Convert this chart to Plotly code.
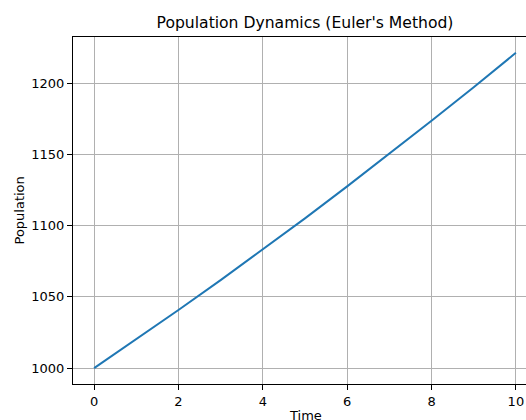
import plotly.graph_objects as go

time = [0, 1, 2, 3, 4, 5, 6, 7, 8, 9, 10]
population = [1000.0, 1020.2, 1040.8, 1061.8, 1083.3, 1105.1, 1127.5, 1150.2, 1173.5, 1197.1, 1221.2]
x_ticks = [0, 2, 4, 6, 8, 10]
y_ticks = [1000, 1050, 1100, 1150, 1200]

font = "DejaVu Sans"
fig = go.Figure()
fig.add_trace(go.Scatter(x=time, y=population, mode="lines",
                         line=dict(color="#1f77b4", width=2), showlegend=False))

axis_common = dict(showgrid=True, gridcolor="#b0b0b0", gridwidth=1, zeroline=False,
                   showline=True, linecolor="black", linewidth=1,
                   ticks="outside", ticklen=5, tickcolor="black", tickwidth=1,
                   tickfont=dict(family=font, size=13, color="black"))

fig.update_xaxes(range=[-0.5, 10.24], tickvals=x_ticks, mirror=True, **axis_common)
fig.update_yaxes(range=[988.9, 1232.3], tickvals=y_ticks, mirror=False, **axis_common)

W, H = 526, 420
L, T, B = 73, 37, 36
pw, ph = W - L, H - T - B

fig.update_layout(
    width=W, height=H,
    margin=dict(l=L, r=0, t=T, b=B),
    plot_bgcolor="white", paper_bgcolor="white",
    title=dict(text="Population Dynamics (Euler's Method)", x=305/W, xref="container",
               xanchor="center", y=1-23/H, yref="container", yanchor="middle",
               font=dict(family=font, size=15.6, color="black")),
    annotations=[
        dict(text="Time", x=(305-L)/pw, xref="paper", y=(384-415)/ph, yref="paper",
             showarrow=False, xanchor="center", yanchor="middle",
             font=dict(family=font, size=13, color="black")),
        dict(text="Population", x=(19-L)/pw, xref="paper", y=0.5, yref="paper",
             showarrow=False, textangle=-90, xanchor="center", yanchor="middle",
             font=dict(family=font, size=13, color="black")),
    ],
)
fig.write_html("out.html", config={"displayModeBar": False},
               post_script="document.body.style.margin='0';document.body.style.overflow='hidden';")
